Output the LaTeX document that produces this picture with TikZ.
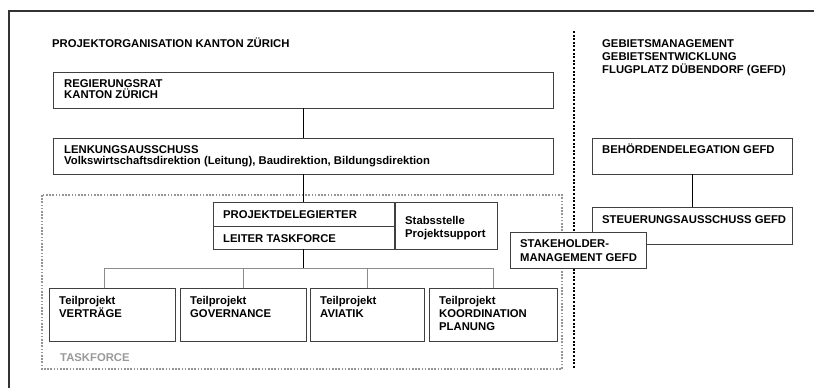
\documentclass[tikz,border=0pt]{standalone}
\usepackage{fontspec}
\setmainfont{Liberation Sans}
\begin{document}
\begin{tikzpicture}[x=1pt,y=-1pt,
  box/.style={draw=black!75,line width=0.9pt,fill=white},
  txt/.style={anchor=base west,inner sep=0pt,font=\bfseries\fontsize{11.3}{13}\selectfont,text=black},
  conn/.style={draw=black,line width=0.8pt},
  gconn/.style={draw=black!45,line width=0.9pt}]
\useasboundingbox (0,0) rectangle (814,388);
% outer frame (only top and left visible)
\draw[black!80,line width=1.4pt] (814,11) -- (9,11) -- (9,388);
% taskforce dotted frame
\draw[black!42,line width=1.8pt,dash pattern=on 1.6pt off 1.6pt] (42,195) rectangle (562,369);
\node[txt,text=black!40] (tfl) at (60,361) {TASKFORCE};
% divider
\draw[black,line width=2.4pt,dash pattern=on 2pt off 1.6pt] (574,31) -- (574,369);
% titles
\node[txt] (t1) at (52,47) {PROJEKTORGANISATION KANTON ZÜRICH};
\node[txt] (t2a) at (602,47) {GEBIETSMANAGEMENT};
\node[txt] (t2b) at (602,60) {GEBIETSENTWICKLUNG};
\node[txt] (t2c) at (602,73.5) {FLUGPLATZ DÜBENDORF (GEFD)};
% boxes
\path[box] (53,72) rectangle (553,108);
\path[box] (53,138) rectangle (553,174);
\coordinate (regS) at (303,108);
\coordinate (lenN) at (303,138);
\coordinate (lenS) at (303,174);
\node[txt] (reg1) at (64,87) {REGIERUNGSRAT};
\node[txt] (reg2) at (64,98.5) {KANTON ZÜRICH};
\node[txt] (len1) at (64,153) {LENKUNGSAUSSCHUSS};
\node[txt] (len2) at (64,164.5) {Volkswirtschaftsdirektion (Leitung), Baudirektion, Bildungsdirektion};
% Projektdelegierter / Leiter / Stabsstelle
\path[box] (213,202) rectangle (394,226);
\path[box] (213,226) rectangle (394,249);
\path[box] (395,202) rectangle (497,249);
\coordinate (pdN) at (303,202);
\coordinate (ltS) at (303,249);
\node[txt] (pd) at (223,218) {PROJEKTDELEGIERTER};
\node[txt] (lt) at (223,242) {LEITER TASKFORCE};
\node[txt] (st1) at (405,224.5) {Stabsstelle};
\node[txt] (st2) at (405,237.5) {Projektsupport};
% connectors
\draw[conn] (regS) -- (lenN);
\draw[conn] (lenS) -- (pdN);
\coordinate (br) at (303,268);
\coordinate (d1) at (104,288);
\coordinate (d2) at (243,288);
\coordinate (d3) at (367,288);
\coordinate (d4) at (493,288);
\draw[gconn] (d1) |- (br);
\draw[gconn] (d4) |- (br);
\draw[gconn] (d2) -- (d2 |- br);
\draw[gconn] (d3) -- (d3 |- br);
\draw[conn] (ltS) -- (br);
% Teilprojekte
\path[box] (49,288) rectangle (175,341);
\path[box] (180,288) rectangle (306,341);
\path[box] (310,288) rectangle (424,341);
\path[box] (429,288) rectangle (557,341);
\node[txt] (a1) at (59,304) {Teilprojekt};
\node[txt] (a2) at (59,317.5) {VERTRÄGE};
\node[txt] (b1) at (190,304) {Teilprojekt};
\node[txt] (b2) at (190,317.5) {GOVERNANCE};
\node[txt] (c1) at (320,304) {Teilprojekt};
\node[txt] (c2) at (320,317.5) {AVIATIK};
\node[txt] (e1) at (439,304) {Teilprojekt};
\node[txt] (e2) at (439,317) {KOORDINATION};
\node[txt] (e3) at (439,330) {PLANUNG};
% right side
\path[box] (592,138) rectangle (792,174);
\node[txt] (bd) at (602,153) {BEHÖRDENDELEGATION GEFD};
\coordinate (bdS) at (692,174);
\coordinate (suN) at (692,207);
\draw[conn] (bdS) -- (suN);
\path[box] (592,207) rectangle (792,244);
\node[txt] (su) at (602,223) {STEUERUNGSAUSSCHUSS GEFD};
\path[box] (510,232) rectangle (646,268);
\node[txt] (sh1) at (520,247.5) {STAKEHOLDER-};
\node[txt] (sh2) at (520,261) {MANAGEMENT GEFD};
\end{tikzpicture}
\end{document}
